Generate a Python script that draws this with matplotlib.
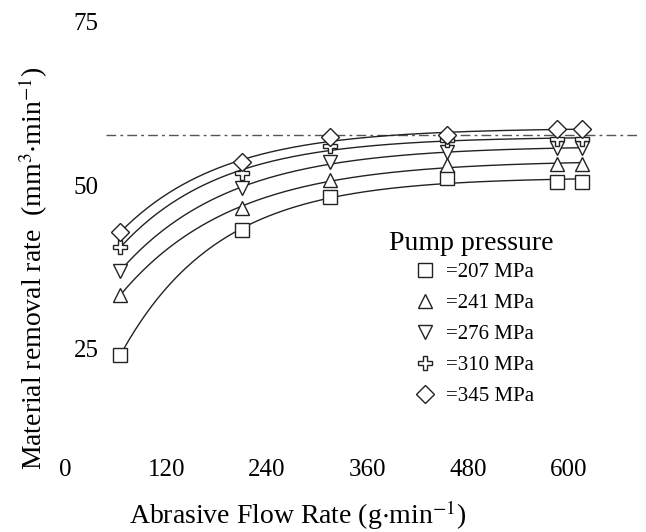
import numpy as np
import matplotlib
matplotlib.use("Agg")
import matplotlib.pyplot as plt

plt.rcParams["font.family"] = ["Liberation Serif", "DejaVu Serif"]
plt.rcParams["mathtext.fontset"] = "stix"

# abrasive flow rate (g/min) and removal rate (mm3/min) per pump pressure
flow = [65, 210, 315, 455, 585, 615]
mrr_207 = [24.0, 43.1, 48.2, 51.1, 50.5, 50.5]
mrr_241 = [33.2, 46.5, 50.8, 53.0, 53.2, 53.2]
mrr_276 = [36.9, 49.5, 53.5, 55.0, 55.6, 55.6]
mrr_310 = [40.5, 51.8, 56.0, 56.8, 57.0, 57.0]
mrr_345 = [42.8, 53.5, 57.3, 57.7, 58.5, 58.5]
limit_level = 57.7

series = [
    ("=207 MPa", mrr_207, "s", 10),
    ("=241 MPa", mrr_241, "^", 10),
    ("=276 MPa", mrr_276, "v", 10),
    ("=310 MPa", mrr_310, "P", 10),
    ("=345 MPa", mrr_345, "D", 9),
]
xticks = [0, 120, 240, 360, 480, 600]
yticks = [25, 50, 75]


def trend(x, y, n=200):
    # saturating fit y = a - b*exp(-x/c), used to draw the smooth curves
    x = np.asarray(x, float)
    y = np.asarray(y, float)
    best = None
    for c in np.linspace(30, 400, 371):
        A = np.column_stack([np.ones_like(x), -np.exp(-x / c)])
        coef, res, *_ = np.linalg.lstsq(A, y, rcond=None)
        err = np.sum((A @ coef - y) ** 2)
        if best is None or err < best[0]:
            best = (err, c, coef)
    _, c, (a, b) = best
    xs = np.linspace(x[0], x[-1], n)
    return xs, a - b * np.exp(-xs / c)


fig = plt.figure(figsize=(6.46, 5.32), dpi=100)
ax = fig.add_axes([0.1014, 0.2213, 0.890, 0.7634])

ax.axhline(limit_level, xmin=0.07, xmax=1, color="#555555", lw=1.0,
           linestyle=(0, (7, 3, 2, 3)), zorder=1)

for label, vals, mk, ms in series:
    xs, ys = trend(flow, vals)
    ax.plot(xs, ys, color="#222222", lw=1.0, zorder=2)
    ax.plot(flow, vals, linestyle="none", marker=mk, markersize=ms,
            markerfacecolor="white", markeredgecolor="#222222",
            markeredgewidth=1.0, label=label, zorder=3)

ax.set_xlim(0, 685)
ax.set_ylim(15, 77)
ax.set_xticks(xticks)
ax.set_yticks(yticks)
for s in ax.spines.values():
    s.set_visible(False)
ax.tick_params(axis="both", length=0, labelsize=18)
ax.tick_params(axis="x", pad=32)
ax.tick_params(axis="y", pad=-24)

fig.text(33 / 646, 1 - 268 / 532, r"Material removal rate  (mm$^{3}$$\cdot$min$^{-1}$)",
         rotation=90, ha="center", va="center", fontsize=20)
fig.text(298 / 646, 1 - 515 / 532, r"Abrasive Flow Rate (g$\cdot$min$^{-1}$)",
         ha="center", va="center", fontsize=20)

leg = ax.legend(title="Pump pressure", loc="upper left",
                bbox_to_anchor=(374 / 646, 1 - 216 / 532),
                bbox_transform=fig.transFigure, frameon=False,
                fontsize=15, title_fontsize=20, handletextpad=0.2,
                handlelength=1.6, labelspacing=0.55, borderpad=0.2)
leg._legend_box.sep = 5

fig.savefig("out.png", dpi=100)
